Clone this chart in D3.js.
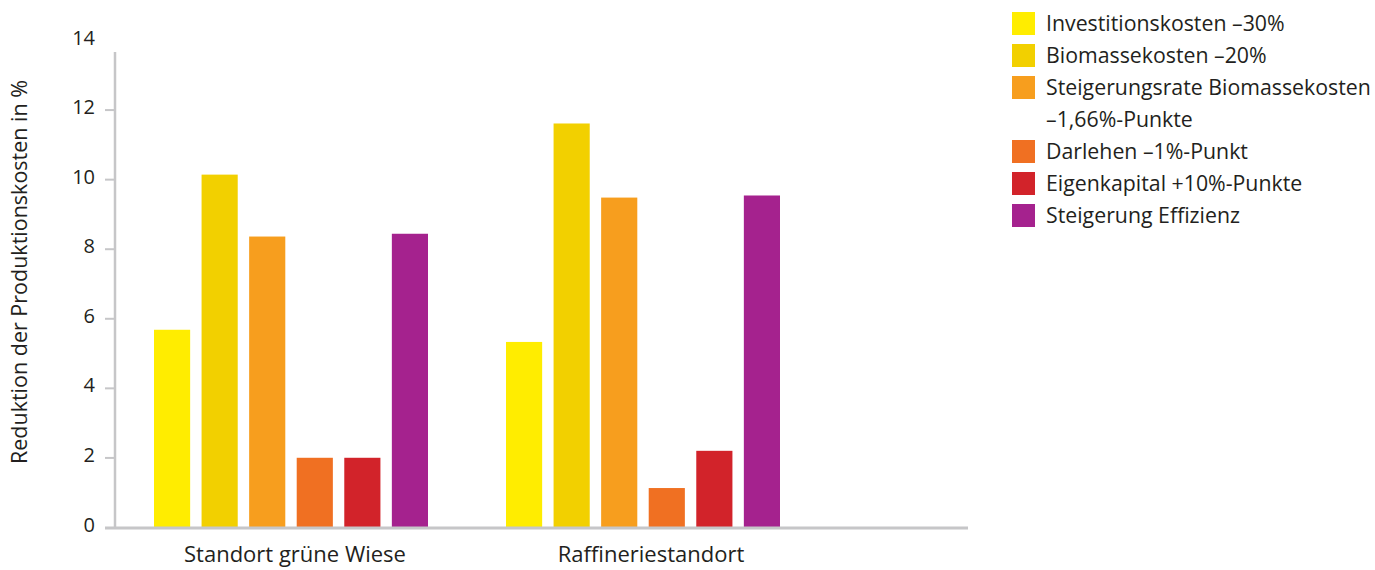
<!DOCTYPE html>
<html>
<head>
<meta charset="utf-8">
<script src="https://cdn.jsdelivr.net/npm/d3@7"></script>
<style>
  body { margin: 0; background: #fff; }
  text { font-family: "Open Sans", sans-serif; fill: #231f20; }
</style>
</head>
<body>
<div id="chart"></div>
<script>
// data
var categories = ['Standort grüne Wiese', 'Raffineriestandort'];
var seriesNames = ['Investitionskosten –30%', 'Biomassekosten –20%', 'Steigerungsrate Biomassekosten', 'Darlehen –1%-Punkt', 'Eigenkapital +10%-Punkte', 'Steigerung Effizienz'];
var seriesColors = ['#ffed00', '#f2d000', '#f79e1e', '#f07022', '#d2232a', '#a5228e'];
var gruneWiese = [5.67, 10.13, 8.35, 1.99, 1.99, 8.43];
var raffinerie = [5.32, 11.6, 9.47, 1.12, 2.19, 9.53];
var yTicks = [0, 2, 4, 6, 8, 10, 12, 14];

var values = [gruneWiese, raffinerie];

var w = 1375, h = 570;
var svg = d3.select('#chart').append('svg')
  .attr('width', w)
  .attr('height', h);

// scales
var x0 = d3.scaleBand().domain(categories).range([115, 819]);
var x1 = d3.scaleBand().domain(seriesNames).range([39, 313]).paddingInner(0.24);
var y = d3.scaleLinear().domain([0, 14]).range([527, 40]);

// y axis
var yAxis = svg.append('g')
  .attr('transform', 'translate(115,0)')
  .call(d3.axisLeft(y).tickValues(yTicks).tickSize(10).tickPadding(10));
yAxis.select('.domain').remove();
yAxis.selectAll('.tick line').attr('stroke', '#c6c6c8').attr('stroke-width', 2);
yAxis.selectAll('.tick text').attr('font-size', 20).attr('dy', '0.2em').style('fill', '#231f20');
yAxis.selectAll('.tick').filter(function(d) { return d === 0 || d === 14; }).select('line').remove();

svg.append('line')
  .attr('x1', 115).attr('x2', 115)
  .attr('y1', 52).attr('y2', y(0))
  .attr('stroke', '#c6c6c8').attr('stroke-width', 2.5);

// bars
var groups = svg.selectAll('.group')
  .data(categories)
  .enter()
  .append('g').classed('group', true)
  .attr('transform', function(d) { return 'translate(' + x0(d) + ',0)'; });

groups.selectAll('rect')
  .data(function(d, i) { return values[i].map(function(v, j) { return {name: seriesNames[j], value: v, color: seriesColors[j]}; }); })
  .enter()
  .append('rect')
  .attr('x', function(d) { return x1(d.name); })
  .attr('width', x1.bandwidth())
  .attr('y', function(d) { return y(d.value); })
  .attr('height', function(d) { return y(0) - y(d.value); })
  .attr('fill', function(d) { return d.color; });

// baseline
svg.append('line')
  .attr('x1', 105).attr('x2', 968)
  .attr('y1', y(0) + 1).attr('y2', y(0) + 1)
  .attr('stroke', '#c6c6c8').attr('stroke-width', 3);

// category labels
svg.selectAll('.cat')
  .data(categories)
  .enter()
  .append('text').classed('cat', true)
  .attr('x', function(d, i) { return x0(d) + 180 + i * 4; })
  .attr('y', 562)
  .attr('text-anchor', 'middle')
  .attr('font-size', 22)
  .text(function(d) { return d; });

// y title
svg.append('text')
  .attr('transform', 'translate(27,272) rotate(-90)')
  .attr('text-anchor', 'middle')
  .attr('font-size', 21.5)
  .text('Reduktion der Produktionskosten in %');

// legend
var legendRows = [0, 1, 2, 4, 5, 6];
var legend = svg.selectAll('.legend')
  .data(seriesNames)
  .enter()
  .append('g').classed('legend', true)
  .attr('transform', function(d, i) { return 'translate(1012,' + (12 + legendRows[i] * 32) + ')'; });

legend.append('rect')
  .attr('width', 23).attr('height', 23)
  .attr('fill', function(d, i) { return seriesColors[i]; });

legend.append('text')
  .attr('x', 34).attr('y', 19)
  .attr('font-size', 21.3)
  .text(function(d) { return d; });

svg.append('text')
  .attr('x', 1046).attr('y', 12 + 3 * 32 + 19)
  .attr('font-size', 21.3)
  .text('–1,66%-Punkte');
</script>
</body>
</html>
